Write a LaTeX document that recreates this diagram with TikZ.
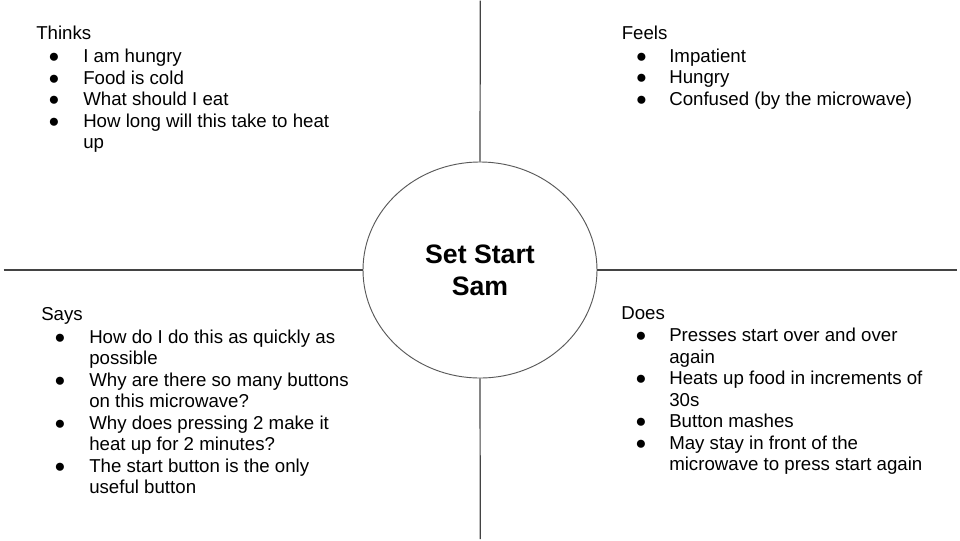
\documentclass[tikz,border=0pt]{standalone}
\usepackage{fontspec}
\setmainfont{Liberation Sans}
\usetikzlibrary{shapes.geometric}
\definecolor{linegray}{HTML}{434343}
\definecolor{circgray}{HTML}{595959}
\tikzset{
  divider/.style={draw=linegray, line width=0.9pt},
  persona/.style={ellipse, draw=circgray, line width=0.7pt, fill=white,
    minimum width=234*0.75pt, minimum height=216*0.75pt, inner sep=0pt},
  ttl/.style={anchor=base west, inner sep=0pt, font=\fontsize{14}{16.1}\selectfont},
  item/.style={anchor=base west, inner sep=0pt, font=\fontsize{14}{16.1}\selectfont},
  bul/.style={anchor=base west, inner sep=0pt, font=\fontsize{14}{16.1}\selectfont},
  big/.style={anchor=base, inner sep=0pt, font=\fontsize{20}{23}\selectfont\bfseries}
}
\begin{document}
\begin{tikzpicture}[x=0.75pt, y=-0.75pt]
\useasboundingbox (0,0) rectangle (960,540);
% central ellipse
\node[persona] (c) at (480,270) {};
\coordinate (top) at (480.3,0.5);
\coordinate (bot) at (480.3,539);
\coordinate (lft) at (3.5,270);
\coordinate (rgt) at (957,270);
\draw[divider] (top) -- (c.north);
\draw[divider] (c.south) -- (bot);
\draw[divider] (lft) -- (c.west);
\draw[divider] (c.east) -- (rgt);
\node[big] (n1) at (480,263) {Set Start};
\node[big] (n2) at (480,295) {Sam};
% Thinks
\node[ttl] (th) at (36,39.5) {Thinks};
\node[bul] (thb1) at (48,62.5) {●};
\node[item] (th1) at (83,62.5) {I am hungry};
\node[bul] (thb2) at (48,84) {●};
\node[item] (th2) at (83,84) {Food is cold};
\node[bul] (thb3) at (48,105.5) {●};
\node[item] (th3) at (83,105.5) {What should I eat};
\node[bul] (thb4) at (48,127) {●};
\node[item] (th4) at (83,127) {How long will this take to heat};
\node[item] (th4b) at (83,148.5) {up};
% Feels
\node[ttl] (fe) at (621.5,39.5) {Feels};
\node[bul] (feb1) at (635.5,62) {●};
\node[item] (fe1) at (669,62) {Impatient};
\node[bul] (feb2) at (635.5,83.5) {●};
\node[item] (fe2) at (669,83.5) {Hungry};
\node[bul] (feb3) at (635.5,105) {●};
\node[item] (fe3) at (669,105) {Confused (by the microwave)};
% Says
\node[ttl] (sa) at (41,320) {Says};
\node[bul] (sab1) at (54,343) {●};
\node[item] (sa1) at (89,343) {How do I do this as quickly as};
\node[item] (sa1b) at (89,364.5) {possible};
\node[bul] (sab2) at (54,386) {●};
\node[item] (sa2) at (89,386) {Why are there so many buttons};
\node[item] (sa2b) at (89,407.5) {on this microwave?};
\node[bul] (sab3) at (54,429) {●};
\node[item] (sa3) at (89,429) {Why does pressing 2 make it};
\node[item] (sa3b) at (89,450.5) {heat up for 2 minutes?};
\node[bul] (sab4) at (54,472) {●};
\node[item] (sa4) at (89,472) {The start button is the only};
\node[item] (sa4b) at (89,493.5) {useful button};
% Does
\node[ttl] (do) at (621,319.5) {Does};
\node[bul] (dob1) at (635,341.5) {●};
\node[item] (do1) at (669,341.5) {Presses start over and over};
\node[item] (do1b) at (669,363) {again};
\node[bul] (dob2) at (635,384.5) {●};
\node[item] (do2) at (669,384.5) {Heats up food in increments of};
\node[item] (do2b) at (669,406) {30s};
\node[bul] (dob3) at (635,427.5) {●};
\node[item] (do3) at (669,427.5) {Button mashes};
\node[bul] (dob4) at (635,449) {●};
\node[item] (do4) at (669,449) {May stay in front of the};
\node[item] (do4b) at (669,470.5) {microwave to press start again};
\end{tikzpicture}
\end{document}
